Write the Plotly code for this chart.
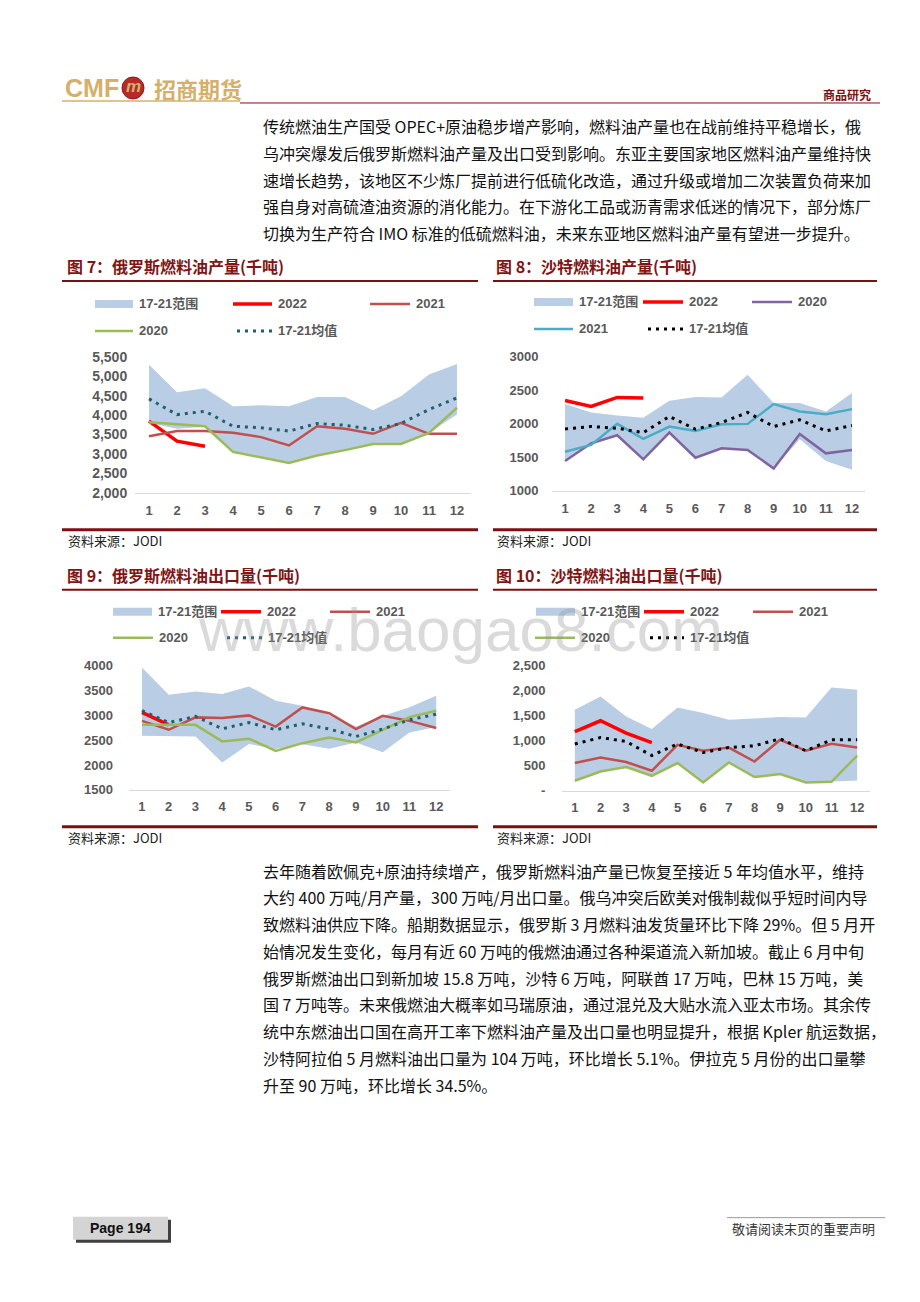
import plotly.graph_objects as go

W, H = 920, 1302

# ---------------- data ----------------
months = list(range(1, 13))
month_labels = [str(m) for m in months]

# 图7 俄罗斯燃料油产量(千吨)
ru_prod_range_max = [5300, 4590, 4690, 4230, 4255, 4230, 4470, 4470, 4125, 4490, 5045, 5320]
ru_prod_range_min = [3800, 3650, 3700, 3055, 2915, 2770, 2960, 3100, 3260, 3260, 3545, 4015]
ru_prod_2022 = [3845, 3330, 3200]
ru_prod_2021 = [3460, 3590, 3590, 3545, 3435, 3220, 3715, 3650, 3520, 3800, 3520, 3520]
ru_prod_2020 = [3820, 3775, 3715, 3055, 2915, 2770, 2960, 3100, 3260, 3260, 3545, 4190]
ru_prod_avg = [4420, 4015, 4100, 3715, 3675, 3590, 3785, 3740, 3630, 3785, 4145, 4445]
ru_prod_yticks = [2000, 2500, 3000, 3500, 4000, 4500, 5000, 5500]
ru_prod_yticklabels = ["2,000", "2,500", "3,000", "3,500", "4,000", "4,500", "5,000", "5,500"]

# 图8 沙特燃料油产量(千吨)
sa_prod_range_max = [2295, 2170, 2125, 2090, 2345, 2400, 2395, 2735, 2310, 2310, 2185, 2460]
sa_prod_range_min = [1445, 1685, 1830, 1470, 1870, 1495, 1635, 1610, 1335, 1770, 1445, 1315]
sa_prod_2022 = [2350, 2260, 2395, 2385]
sa_prod_2020 = [1445, 1710, 1830, 1470, 1870, 1495, 1635, 1610, 1335, 1850, 1560, 1610]
sa_prod_2021 = [1585, 1685, 2000, 1775, 1960, 1895, 1995, 2000, 2295, 2185, 2145, 2220]
sa_prod_avg = [1925, 1960, 1935, 1870, 2110, 1920, 2020, 2170, 1960, 2060, 1895, 1975]
sa_prod_yticks = [1000, 1500, 2000, 2500, 3000]
sa_prod_yticklabels = ["1000", "1500", "2000", "2500", "3000"]

# 图9 俄罗斯燃料油出口量(千吨)
ru_exp_range_max = [3965, 3415, 3480, 3430, 3585, 3295, 3195, 3010, 2775, 2990, 3165, 3395]
ru_exp_range_min = [2590, 2590, 2575, 2050, 2425, 2320, 2420, 2325, 2455, 2255, 2655, 2765]
ru_exp_2022 = [3060, 2810]
ru_exp_2021 = [2890, 2710, 2960, 2945, 3000, 2775, 3160, 3045, 2725, 2990, 2890, 2745]
ru_exp_2020 = [2810, 2810, 2810, 2475, 2530, 2285, 2440, 2555, 2455, 2710, 2965, 3095]
ru_exp_avg = [3095, 2855, 2980, 2730, 2855, 2710, 2830, 2725, 2575, 2725, 2910, 3025]
ru_exp_yticks = [1500, 2000, 2500, 3000, 3500, 4000]
ru_exp_yticklabels = ["1500", "2000", "2500", "3000", "3500", "4000"]

# 图10 沙特燃料油出口量(千吨)
sa_exp_range_max = [1620, 1885, 1485, 1235, 1665, 1555, 1420, 1440, 1475, 1465, 2065, 2020]
sa_exp_range_min = [200, 385, 475, 300, 555, 165, 565, 275, 335, 175, 185, 205]
sa_exp_2022 = [1185, 1400, 1155, 965]
sa_exp_2021 = [555, 665, 575, 400, 920, 800, 865, 585, 1020, 800, 940, 865]
sa_exp_2020 = [200, 385, 475, 300, 555, 165, 565, 275, 335, 165, 180, 705]
sa_exp_avg = [935, 1065, 985, 705, 935, 765, 865, 900, 1040, 800, 1020, 1020]
sa_exp_yticks = [0, 500, 1000, 1500, 2000, 2500]
sa_exp_yticklabels = ["-", "500", "1,000", "1,500", "2,000", "2,500"]

# ---------------- styles ----------------
BAND = "#B9CDE5"
RED = "#FF0000"
C2021 = "#C0504D"
GREEN = "#9BBB59"
PURPLE = "#8064A2"
TEAL = "#4BACC6"
MEAN_TEAL = "#1F5F70"
BLACK = "#000000"
MAROON = "#7B1012"
GOLD = "#D4B06A"
GRAY_TXT = "#595959"
DOT = "3px,5px"

SANS = "Liberation Sans, Noto Sans CJK SC, sans-serif"
CJK = "Noto Sans CJK SC, sans-serif"


def X(px):
    return px / W


def Y(py):
    # page-pixel (from top) -> paper fraction, with a small calibration
    return 1 - ((py - 8) / 0.988) / H


fig = go.Figure()
shapes = []
annotations = []


def hline(x0, x1, y, color, width, dash="solid"):
    shapes.append(dict(type="line", xref="paper", yref="paper",
                       x0=X(x0), x1=X(x1), y0=Y(y), y1=Y(y),
                       line=dict(color=color, width=width, dash=dash)))


def rect(x0, x1, y0, y1, fill, line_color=None, lw=0):
    shapes.append(dict(type="rect", xref="paper", yref="paper",
                       x0=X(x0), x1=X(x1), y0=Y(y1), y1=Y(y0),
                       fillcolor=fill, line=dict(color=line_color or fill, width=lw)))


def text(s, x, y, size, color, xanchor="left", bold=False, family=CJK):
    annotations.append(dict(text=s, x=X(x), y=Y(y), xref="paper", yref="paper",
                            xanchor=xanchor, yanchor="middle", showarrow=False,
                            font=dict(size=size, color=color, family=family,
                                      weight="bold" if bold else "normal")))


# ---------------- charts ----------------
charts = [
    dict(n="", xdom=(135, 471), ydom=(357, 493), yr=(2000, 5500),
         tv=ru_prod_yticks, tt=ru_prod_yticklabels, yfs=14, ylen=4, xlen=6,
         band=(ru_prod_range_min, ru_prod_range_max),
         lines=[(ru_prod_2022, RED, 3.5, "solid"), (ru_prod_2021, C2021, 2.5, "solid"),
                (ru_prod_2020, GREEN, 2.5, "solid"), (ru_prod_avg, MEAN_TEAL, 3, DOT)]),
    dict(n="2", xdom=(552, 865), ydom=(357, 491), yr=(1000, 3000),
         tv=sa_prod_yticks, tt=sa_prod_yticklabels, yfs=13, ylen=10, xlen=6,
         band=(sa_prod_range_min, sa_prod_range_max),
         lines=[(sa_prod_2022, RED, 3.5, "solid"), (sa_prod_2020, PURPLE, 2.5, "solid"),
                (sa_prod_2021, TEAL, 2.5, "solid"), (sa_prod_avg, BLACK, 3, DOT)]),
    dict(n="3", xdom=(128.6, 449.6), ydom=(666, 790), yr=(1500, 4000),
         tv=ru_exp_yticks, tt=ru_exp_yticklabels, yfs=13, ylen=12, xlen=5,
         band=(ru_exp_range_min, ru_exp_range_max),
         lines=[(ru_exp_2022, RED, 3.5, "solid"), (ru_exp_2021, C2021, 2.5, "solid"),
                (ru_exp_2020, GREEN, 2.5, "solid"), (ru_exp_avg, MEAN_TEAL, 3, DOT)]),
    dict(n="4", xdom=(562, 870), ydom=(666, 791), yr=(0, 2500),
         tv=sa_exp_yticks, tt=sa_exp_yticklabels, yfs=13, ylen=13, xlen=5,
         band=(sa_exp_range_min, sa_exp_range_max),
         lines=[(sa_exp_2022, RED, 3.5, "solid"), (sa_exp_2021, C2021, 2.5, "solid"),
                (sa_exp_2020, GREEN, 2.5, "solid"), (sa_exp_avg, BLACK, 3, DOT)]),
]

layout_axes = {}
for c in charts:
    xa, ya = "x" + c["n"], "y" + c["n"]
    lo, hi = c["band"]
    fig.add_trace(go.Scatter(x=months, y=lo, xaxis=xa, yaxis=ya, mode="lines",
                             line=dict(width=0, color=BAND), showlegend=False, hoverinfo="skip"))
    fig.add_trace(go.Scatter(x=months, y=hi, xaxis=xa, yaxis=ya, mode="lines",
                             line=dict(width=0, color=BAND), fill="tonexty", fillcolor=BAND,
                             showlegend=False, hoverinfo="skip"))
    for vals, col, wd, dash in c["lines"]:
        fig.add_trace(go.Scatter(x=months[:len(vals)], y=vals, xaxis=xa, yaxis=ya, mode="lines",
                                 line=dict(color=col, width=wd, dash=dash),
                                 showlegend=False, hoverinfo="skip"))
    layout_axes["xaxis" + c["n"]] = dict(
        domain=[X(c["xdom"][0]), X(c["xdom"][1])], range=[0.5, 12.5], anchor=ya,
        tickvals=months, ticktext=month_labels, showgrid=False, zeroline=False,
        showline=True, linecolor="#D9D9D9", linewidth=1,
        ticks="outside", ticklen=c["xlen"], tickcolor="rgba(0,0,0,0)",
        tickfont=dict(family=SANS, size=13, color=GRAY_TXT, weight="bold"), fixedrange=True)
    layout_axes["yaxis" + c["n"]] = dict(
        domain=[Y(c["ydom"][1]), Y(c["ydom"][0])], range=list(c["yr"]), anchor=xa,
        tickvals=c["tv"], ticktext=c["tt"], showgrid=False, zeroline=False, showline=False,
        ticks="outside", ticklen=c["ylen"], tickcolor="rgba(0,0,0,0)",
        tickfont=dict(family=SANS, size=c["yfs"], color=GRAY_TXT, weight="bold"), fixedrange=True)


# ---------------- legends (drawn manually) ----------------
LEG_FS = 13


def legend_band(x0, x1, y, label):
    rect(x0, x1, y - 4, y + 4, BAND)
    text(label, x1 + 4, y, LEG_FS, GRAY_TXT, bold=True, family=SANS)


def legend_line(x0, x1, y, color, width, label, dash="solid"):
    hline(x0, x1, y, color, width, dash)
    text(label, x1 + 4, y, LEG_FS, GRAY_TXT, bold=True, family=SANS)


# chart 7
legend_band(95, 133, 304, "17-21范围")
legend_line(233, 272, 304, RED, 3.5, "2022")
legend_line(370, 410, 304, C2021, 2.5, "2021")
legend_line(95, 133, 331, GREEN, 2.5, "2020")
legend_line(237, 272, 331, MEAN_TEAL, 3, "17-21均值", DOT)
# chart 8
legend_band(534, 573, 302, "17-21范围")
legend_line(643, 683, 302, RED, 3.5, "2022")
legend_line(752, 792, 302, PURPLE, 2.5, "2020")
legend_line(534, 573, 329, TEAL, 2.5, "2021")
legend_line(648, 683, 329, BLACK, 3, "17-21均值", DOT)
# chart 9
legend_band(113, 152, 612, "17-21范围")
legend_line(221, 261, 612, RED, 3.5, "2022")
legend_line(330, 370, 612, C2021, 2.5, "2021")
legend_line(113, 153, 638, GREEN, 2.5, "2020")
legend_line(227, 262, 638, MEAN_TEAL, 3, "17-21均值", DOT)
# chart 10
legend_band(536, 575, 612, "17-21范围")
legend_line(644, 684, 612, RED, 3.5, "2022")
legend_line(753, 793, 612, C2021, 2.5, "2021")
legend_line(535, 575, 638, GREEN, 2.5, "2020")
legend_line(650, 684, 638, BLACK, 3, "17-21均值", DOT)

# ---------------- chart titles / sources ----------------
TITLE_RED = "#801515"
text("图 7：俄罗斯燃料油产量(千吨)", 65, 266, 16, TITLE_RED, bold=True)
text("图 8：沙特燃料油产量(千吨)", 494, 266, 16, TITLE_RED, bold=True)
text("图 9：俄罗斯燃料油出口量(千吨)", 65, 575, 16, TITLE_RED, bold=True)
text("图 10：沙特燃料油出口量(千吨)", 494, 575, 16, TITLE_RED, bold=True)
for (a, b) in [(62, 478), (493, 877)]:
    hline(a, b, 281, MAROON, 2)
    hline(a, b, 590, MAROON, 2)
    hline(a, b, 530, MAROON, 3)
    hline(a, b, 827, MAROON, 3)
text("资料来源：JODI", 66, 541, 13, "#222222")
text("资料来源：JODI", 495, 541, 13, "#222222")
text("资料来源：JODI", 66, 838, 13, "#222222")
text("资料来源：JODI", 495, 838, 13, "#222222")

# ---------------- header ----------------
text("CMF", 63, 88, 25, GOLD, bold=True, family=SANS)
shapes.append(dict(type="circle", xref="paper", yref="paper",
                   x0=X(122), x1=X(144), y0=Y(99), y1=Y(77),
                   fillcolor="#B8292B", line=dict(color="#8E1B1C", width=1)))
text("<i>m</i>", 133, 87, 17, GOLD, xanchor="center", bold=True, family=SANS)
text("招商期货", 152, 88, 22, GOLD, bold=True)
hline(62, 240, 101, GOLD, 1.5)
hline(240, 880, 103, MAROON, 1)
text("商品研究", 873, 95, 12, MAROON, xanchor="right", bold=True)

# ---------------- body text ----------------
para1 = [
    "传统燃油生产国受 OPEC+原油稳步增产影响，燃料油产量也在战前维持平稳增长，俄",
    "乌冲突爆发后俄罗斯燃料油产量及出口受到影响。东亚主要国家地区燃料油产量维持快",
    "速增长趋势，该地区不少炼厂提前进行低硫化改造，通过升级或增加二次装置负荷来加",
    "强自身对高硫渣油资源的消化能力。在下游化工品或沥青需求低迷的情况下，部分炼厂",
    "切换为生产符合 IMO 标准的低硫燃料油，未来东亚地区燃料油产量有望进一步提升。",
]
para2 = [
    "去年随着欧佩克+原油持续增产，俄罗斯燃料油产量已恢复至接近 5 年均值水平，维持",
    "大约 400 万吨/月产量，300 万吨/月出口量。俄乌冲突后欧美对俄制裁似乎短时间内导",
    "致燃料油供应下降。船期数据显示，俄罗斯 3 月燃料油发货量环比下降 29%。但 5 月开",
    "始情况发生变化，每月有近 60 万吨的俄燃油通过各种渠道流入新加坡。截止 6 月中旬",
    "俄罗斯燃油出口到新加坡 15.8 万吨，沙特 6 万吨，阿联酋 17 万吨，巴林 15 万吨，美",
    "国 7 万吨等。未来俄燃油大概率如马瑞原油，通过混兑及大贴水流入亚太市场。其余传",
    "统中东燃油出口国在高开工率下燃料油产量及出口量也明显提升，根据 Kpler 航运数据，",
    "沙特阿拉伯 5 月燃料油出口量为 104 万吨，环比增长 5.1%。伊拉克 5 月份的出口量攀",
    "升至 90 万吨，环比增长 34.5%。",
]
for i, line in enumerate(para1):
    text(line, 261, 126 + i * 26.8, 16, "#111111")
for i, line in enumerate(para2):
    text(line, 261, 871 + i * 26.75, 16, "#111111")

# ---------------- watermark ----------------
annotations.append(dict(text="www.baogao8.com", x=X(460), y=Y(630), xref="paper", yref="paper",
                        xanchor="center", yanchor="middle", showarrow=False,
                        font=dict(size=62, color="rgba(150,150,150,0.35)", family="Liberation Sans")))

# ---------------- footer ----------------
rect(76, 171, 1220, 1243, "#404040")
rect(73, 168, 1217, 1240, "#D4D4D4")
text("Page 194", 120, 1228, 14, "#111111", xanchor="center", bold=True,
     family="Liberation Sans Narrow, Liberation Sans")
hline(727, 885, 1218, "#999999", 1)
text("敬请阅读末页的重要声明", 877, 1229, 13, "#333333", xanchor="right")

fig.update_layout(
    width=W, height=H, margin=dict(l=0, r=0, t=0, b=0),
    paper_bgcolor="white", plot_bgcolor="rgba(0,0,0,0)",
    showlegend=False, hovermode=False,
    shapes=shapes, annotations=annotations,
    **layout_axes,
)

fig.write_html("out.html", config={"displayModeBar": False},
               post_script="document.body.style.margin='0';document.body.style.overflow='hidden';")
